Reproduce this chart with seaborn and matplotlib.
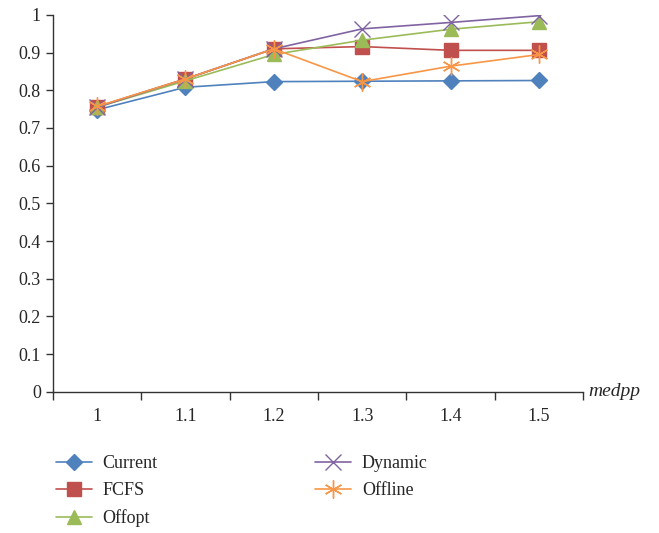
import pandas as pd
import matplotlib.pyplot as plt
import seaborn as sns

# datos
medpp = ['1', '1.1', '1.2', '1.3', '1.4', '1.5']
current = [0.748, 0.808, 0.823, 0.824, 0.825, 0.826]
fcfs = [0.756, 0.830, 0.910, 0.916, 0.906, 0.906]
offopt = [0.755, 0.825, 0.895, 0.933, 0.962, 0.982]
dynamic = [0.755, 0.830, 0.910, 0.963, 0.980, 0.998]
offline = [0.757, 0.830, 0.910, 0.823, 0.864, 0.895]

series = ['Current', 'FCFS', 'Offopt', 'Dynamic', 'Offline']
valores = [current, fcfs, offopt, dynamic, offline]
colores = ['#4F81BD', '#C0504D', '#9BBB59', '#8064A2', '#F79646']
marcadores = ['D', 's', '^', 'x', (6, 2, 0)]
tamanos = [8, 10, 10, 12, 13]

sns.set_style('ticks')
plt.rcParams['font.family'] = ['Liberation Serif', 'DejaVu Serif']

fig = plt.figure(figsize=(6.59, 5.33), dpi=100)
ax = fig.add_axes([0.080, 0.265, 0.805, 0.707])

# una linea por serie (se mezclan marcadores rellenos y de linea)
for nombre, vals, c, m, t in zip(series, valores, colores, marcadores, tamanos):
    df = pd.DataFrame({'pos': range(len(vals)), 'valor': vals})
    sns.lineplot(data=df, x='pos', y='valor', color=c, marker=m,
                 markersize=t, markeredgecolor=c, markeredgewidth=1.0,
                 linewidth=1.2, label=nombre, ax=ax)

ax.set_xlim(-0.5, 5.5)
ax.set_ylim(0, 1)
ax.set_yticks([i / 10 for i in range(11)])
ax.set_yticklabels(['0'] + [f'0.{i}' for i in range(1, 10)] + ['1'])
ax.set_xticks(range(len(medpp)))
ax.set_xticklabels(medpp)
ax.set_xticks([i - 0.5 for i in range(len(medpp) + 1)], minor=True)
ax.tick_params(axis='x', which='major', length=0, pad=12, labelsize=13)
ax.tick_params(axis='x', which='minor', length=6, width=1, color='#333333')
ax.tick_params(axis='y', length=5, width=1, labelsize=13, color='#333333')
ax.set_xlabel('')
ax.set_ylabel('')
for s in ['top', 'right']:
    ax.spines[s].set_visible(False)
for s in ['left', 'bottom']:
    ax.spines[s].set_color('#333333')
    ax.spines[s].set_linewidth(1.0)

ax.text(1.01, 0.0, 'medpp', transform=ax.transAxes, fontsize=14,
        style='italic', va='center', ha='left')

ax.legend(loc='upper left', bbox_to_anchor=(-0.025, -0.125), ncol=2,
          frameon=False, fontsize=13, handlelength=2.0,
          columnspacing=8.7, labelspacing=0.55, handletextpad=0.6)

fig.savefig('out.png', dpi=100)
